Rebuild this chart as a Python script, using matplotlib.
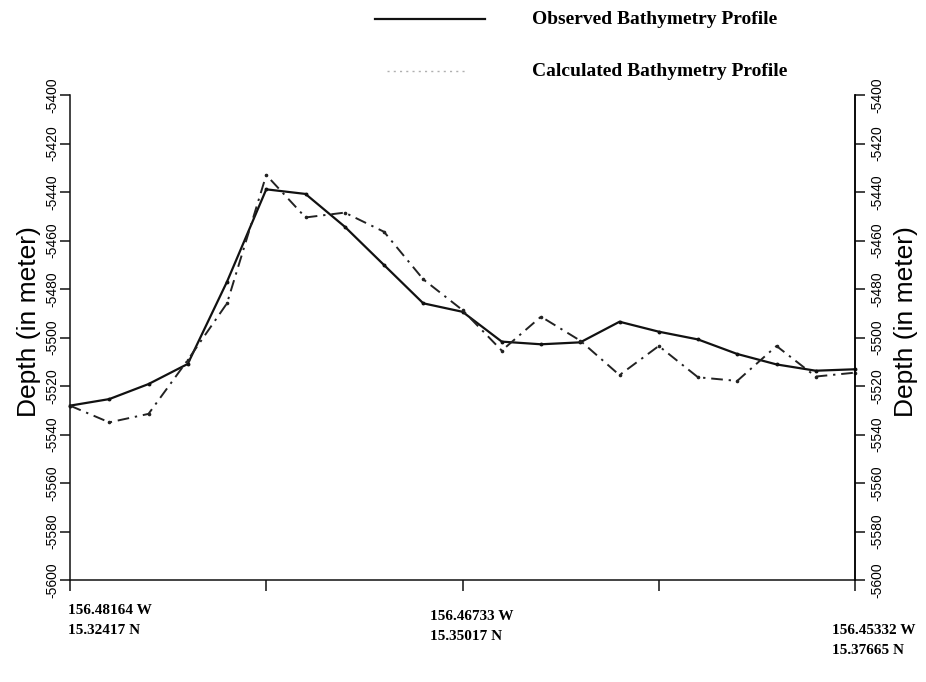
import matplotlib
matplotlib.use("Agg")
import matplotlib.pyplot as plt
from matplotlib.lines import Line2D

# Station index along the profile (21 equally spaced soundings)
stations = list(range(21))

observed_depth = [
    -5528.1, -5525.4, -5519.2, -5510.9, -5477.0, -5438.9, -5440.8,
    -5454.3, -5470.1, -5485.9, -5489.4, -5501.7, -5502.8, -5502.0,
    -5493.5, -5497.6, -5500.8, -5506.8, -5511.1, -5513.7, -5513.1,
]

calculated_depth = [
    -5528.1, -5535.0, -5531.5, -5509.3, -5485.9, -5433.0, -5450.5,
    -5448.5, -5456.4, -5476.0, -5488.7, -5505.4, -5491.4, -5501.3,
    -5515.5, -5503.5, -5516.4, -5517.9, -5503.5, -5516.1, -5514.5,
]

y_ticks = [-5600, -5580, -5560, -5540, -5520, -5500, -5480, -5460, -5440, -5420, -5400]
x_ticks = [0, 5, 10, 15, 20]

position_labels = [
    ("156.48164 W", "15.32417 N"),
    ("156.46733 W", "15.35017 N"),
    ("156.45332 W", "15.37665 N"),
]

legend_labels = ["Observed Bathymetry Profile", "Calculated Bathymetry Profile"]

W, H = 926, 682
fig = plt.figure(figsize=(W / 100, H / 100), dpi=100)
ax = fig.add_axes([70 / W, 1 - 580 / H, 785 / W, 485 / H])

ax.plot(stations, observed_depth, color="#111111", lw=1.6, marker="o", ms=1.8,
        solid_joinstyle="miter", clip_on=False)
ax.plot(stations, calculated_depth, color="#222222", lw=1.4, marker="o", ms=1.6,
        linestyle=(0, (6, 3, 1.2, 3)), clip_on=False)

ax.set_xlim(0, 20)
ax.set_ylim(-5600, -5400)

ax.spines["top"].set_visible(False)
for side in ("left", "right", "bottom"):
    ax.spines[side].set_linewidth(1.1)
    ax.spines[side].set_color("#111111")

ax.set_xticks(x_ticks)
ax.set_xticklabels([])
ax.tick_params(axis="x", direction="out", length=8, width=1.1, color="#111111")

tick_font = dict(family="Liberation Sans", size=10)
ax.set_yticks(y_ticks)
ax.set_yticklabels([str(v) for v in y_ticks], rotation=90, va="center", **tick_font)
ax.tick_params(axis="y", direction="out", length=7, width=1.1, pad=1, color="#111111")

ax2 = ax.twinx()
ax2.set_ylim(ax.get_ylim())
ax2.set_yticks(y_ticks)
ax2.set_yticklabels([str(v) for v in y_ticks], rotation=90, va="center", **tick_font)
ax2.tick_params(axis="y", direction="out", length=7, width=1.1, pad=4, color="#111111")
for side in ("top", "left", "bottom"):
    ax2.spines[side].set_visible(False)
ax2.spines["right"].set_linewidth(1.1)

label_font = dict(family="Liberation Sans", size=19)
fig.text(29 / W, 1 - 322 / H, "Depth (in meter)", rotation=90, ha="center", va="center",
         **label_font)
fig.text(906 / W, 1 - 322 / H, "Depth (in meter)", rotation=90, ha="center", va="center",
         **label_font)

# Geographic positions under the profile
serif_bold = dict(family="Liberation Serif", weight="bold", size=11)
label_spots = [(68, 610), (430, 616), (832, 630)]
for (lon, lat), (px, py) in zip(position_labels, label_spots):
    fig.text(px / W, 1 - py / H, lon, ha="left", va="center", **serif_bold)
    fig.text(px / W, 1 - (py + 20) / H, lat, ha="left", va="center", **serif_bold)

# Legend drawn above the plot
fig.add_artist(Line2D([375 / W, 485 / W], [1 - 19 / H, 1 - 19 / H],
                      color="#111111", lw=1.6, transform=fig.transFigure))
fig.add_artist(Line2D([387 / W, 468 / W], [1 - 71 / H, 1 - 71 / H],
                      color="#b0b0b0", lw=1.0, linestyle=(0, (1.5, 3)),
                      transform=fig.transFigure))
legend_font = dict(family="Liberation Serif", weight="bold", size=14)
fig.text(532 / W, 1 - 19 / H, legend_labels[0], ha="left", va="center", **legend_font)
fig.text(532 / W, 1 - 71 / H, legend_labels[1], ha="left", va="center", **legend_font)

fig.savefig("out.png", dpi=100)
